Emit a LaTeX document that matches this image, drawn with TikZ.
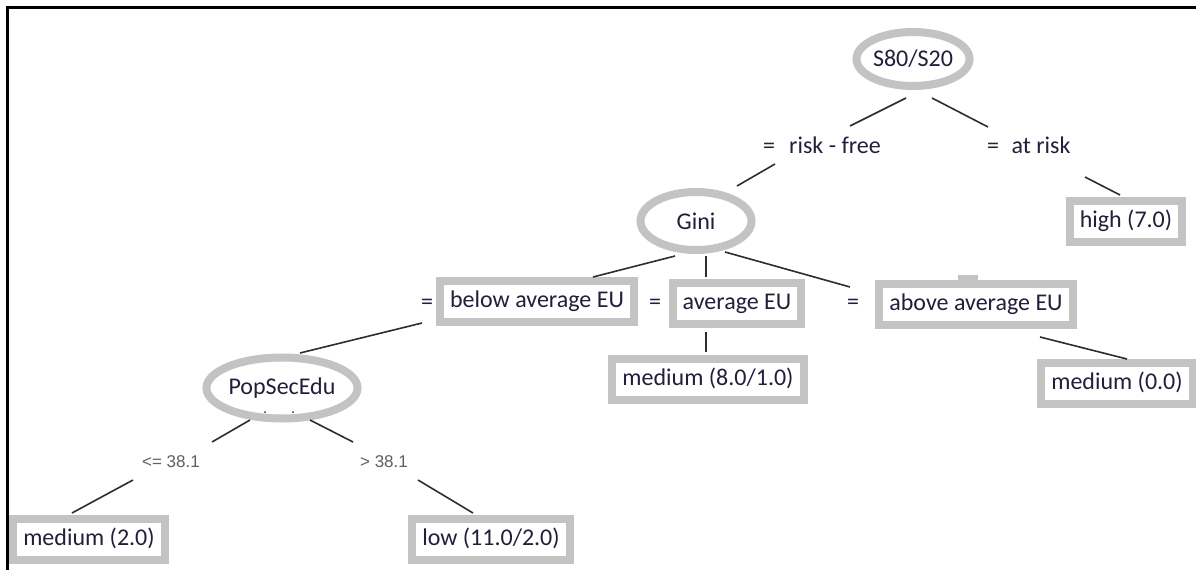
\documentclass[tikz,border=0pt]{standalone}
\usepackage{fontspec}
\setmainfont{Carlito}
\newfontfamily\splitfont{Liberation Sans}
\usetikzlibrary{shapes.geometric}
\definecolor{BorderClr}{RGB}{195,195,195}
\definecolor{LabelClr}{RGB}{35,30,60}
\definecolor{EdgeClr}{RGB}{45,45,45}
\definecolor{SplitClr}{RGB}{95,95,95}
\newcommand{\TreeFont}{\fontsize{24}{28}\selectfont}
\newcommand{\Branches}[1]{\foreach \a/\b in {#1} {\draw[edge] (\a) -- (\b);}}
\tikzset{
  attr/.style={ellipse, draw=BorderClr, line width=8pt, inner sep=0pt, fill=white,
    text=LabelClr, font=\TreeFont},
  leaf/.style={rectangle, draw=BorderClr, line width=8pt, inner xsep=10pt, inner ysep=9pt,
    text height=18pt, text depth=5pt, fill=white, text=LabelClr, font=\TreeFont},
  val/.style={inner sep=0pt, text height=18pt, text depth=5pt, text=LabelClr, font=\TreeFont},
  split/.style={inner sep=0pt, text=SplitClr, font=\splitfont\fontsize{17}{20}\selectfont},
  edge/.style={draw=EdgeClr, line width=1.6pt}
}

\begin{document}
\begin{tikzpicture}[x=1pt,y=-1pt]
\useasboundingbox (0,0) rectangle (1196,570);
% tests on the attributes
\node[attr, minimum width=109pt, minimum height=54pt] (s80) at (913,59) {S80/S20};
\node[attr, minimum width=111pt, minimum height=58pt] (gini) at (696,221) {Gini};
\node[attr, minimum width=142pt, minimum height=61pt] (pop) at (282,388) {PopSecEdu};
% branch values
\node[val] (eqrf) at (769,147) {=};
\node[val] (rf) at (835,147) {risk - free};
\node[val] (eqar) at (993,147) {=};
\node[val] (ar) at (1041,147) {at risk};
\node[val] (eqb) at (427,303) {=};
\node[leaf] (bavg) at (537,301) {below average EU};
\node[val] (eqa) at (655,303) {=};
\node[leaf] (avg) at (737,303) {average EU};
\node[val] (eqc) at (853,303) {=};
\node[leaf] (aavg) at (976,304) {above average EU};
\fill[BorderClr] (958,275) rectangle (978,282);
\node[split] (le) at (171,462) {<= 38.1};
\node[split] (gt) at (384,462) {> 38.1};
% leaves
\node[leaf] (high) at (1126,221) {high (7.0)};
\node[leaf] (med8) at (708,379) {medium (8.0/1.0)};
\node[leaf] (med0) at (1117,383) {medium (0.0)};
\node[leaf] (med2) at (89,539) {medium (2.0)};
\node[leaf] (low) at (491,539) {low (11.0/2.0)};
\fill[EdgeClr] (265,412) circle (1pt) (293,412) circle (1pt);
% segment ends
\foreach \n/\x/\y in {s80a/906/98, rfa/850/126, s80b/932/98, ara/988/127,
    rfb/775/164, ginia/737/186, arb/1085/177, higha/1120/195,
    ginib/675/256, bavga/593/277, ginic/706/256, avga/706/277,
    ginid/725/252, aavga/850/287, bavgb/422/323, popa/300/353,
    avgb/706/332, med8a/706/352, aavgb/1040/337, med0a/1127/359,
    popb/250/420, lea/212/442, popc/310/420, gta/353/442,
    leb/133/480, med2a/72/513, gtb/418/480, lowa/473/513}
  \coordinate (\n) at (\x,\y);
\Branches{s80a/rfa, s80b/ara, rfb/ginia, arb/higha, ginib/bavga, ginic/avga,
  ginid/aavga, bavgb/popa, avgb/med8a, aavgb/med0a, popb/lea, popc/gta,
  leb/med2a, gtb/lowa}
% frame
\draw[line width=3pt] (1196,7.5) -- (7.5,7.5) -- (7.5,570);
\end{tikzpicture}
\end{document}
